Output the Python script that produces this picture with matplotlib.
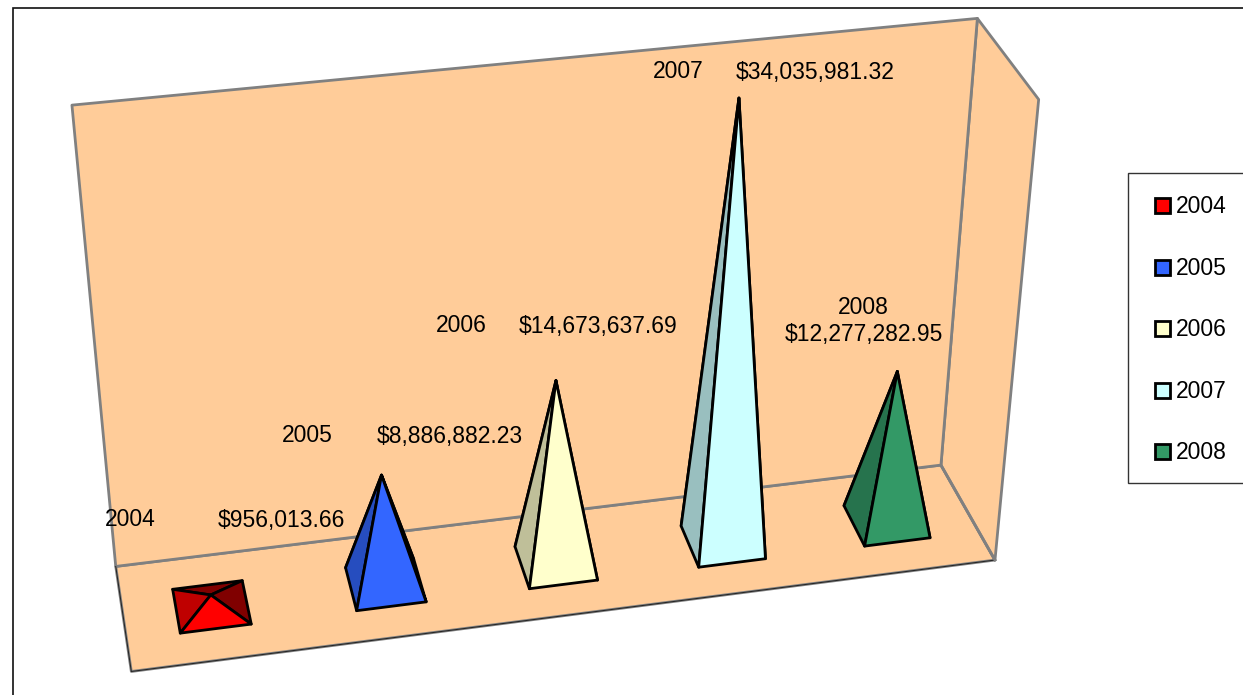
import numpy as np
import matplotlib
matplotlib.use("Agg")
import matplotlib.pyplot as plt
from matplotlib.patches import Polygon, Rectangle

years = ["2004", "2005", "2006", "2007", "2008"]
amounts = [956013.66, 8886882.23, 14673637.69, 34035981.32, 12277282.95]
amount_labels = ["$956,013.66", "$8,886,882.23", "$14,673,637.69", "$34,035,981.32", "$12,277,282.95"]
colors = ["#FF0000", "#3366FF", "#FFFFCC", "#CCFFFF", "#339966"]

W, H = 1243, 695
ZMAX = 35e6
# Box frame: (category axis, depth, value) anchors and where they fall on the canvas
box_world = np.array([[0, 1, ZMAX], [5, 1, ZMAX], [5, 1, 0], [0, 1, 0],
                      [0, 0, 0], [5, 0, 0], [5, 0, ZMAX]], float)
box_pix = np.array([[72, 105], [977, 18], [941, 465], [116, 567],
                    [131, 671], [995, 560], [1039, 100]], float)


def fit_projection(world, pix):
    w = world.copy()
    w[:, 2] /= ZMAX
    rows, rhs = [], []
    for (x, y, z), (u, v) in zip(w, pix):
        rows.append([x, y, z, 1, 0, 0, 0, 0, -u * x, -u * y, -u * z])
        rows.append([0, 0, 0, 0, x, y, z, 1, -v * x, -v * y, -v * z])
        rhs += [u, v]
    sol = np.linalg.lstsq(np.array(rows), np.array(rhs), rcond=None)[0]
    return np.append(sol, 1).reshape(3, 4)


P = fit_projection(box_world, box_pix)


def proj(x, y, z):
    h = P @ np.array([x, y, z / ZMAX, 1.0])
    return h[:2] / h[2]


def shade(c, f):
    return tuple(np.array(matplotlib.colors.to_rgb(c)) * f)


plt.rcParams["font.family"] = ["Liberation Sans", "DejaVu Sans"]
fig = plt.figure(figsize=(W / 100, H / 100), dpi=100)
ax = fig.add_axes([0, 0, 1, 1])
ax.set_xlim(0, W)
ax.set_ylim(H, 0)
ax.axis("off")

# Chart area border
ax.plot([13, 13, W + 5], [H + 5, 8, 8], color="#111111", lw=1.2, solid_joinstyle="miter")

WALL = "#FFCC99"
EDGE = "#808080"
a = lambda x, y, z: proj(x, y, z)
wall = [a(0, 1, ZMAX), a(5, 1, ZMAX), a(5, 1, 0), a(0, 1, 0)]
floor = [a(0, 1, 0), a(5, 1, 0), a(5, 0, 0), a(0, 0, 0)]
side = [a(5, 1, ZMAX), a(5, 0, ZMAX), a(5, 0, 0), a(5, 1, 0)]
for poly in (floor, side, wall):
    ax.add_patch(Polygon(poly, closed=True, fc=WALL, ec=EDGE, lw=2.0, joinstyle="round"))
ax.plot(*zip(a(0, 1, 0), a(0, 0, 0), a(5, 0, 0)), color="#222222", lw=0.7)
ax.plot(*zip(a(5, 0, 0), a(5, 1, 0)), color=EDGE, lw=2.0)

# Pyramids
HALF_X = 0.2
HALF_Y = 0.21
for i, (val, col) in enumerate(zip(amounts, colors)):
    cx, cy = i + 0.5, 0.5
    fl = a(cx - HALF_X, cy - HALF_Y, 0)
    fr = a(cx + HALF_X, cy - HALF_Y, 0)
    bl = a(cx - HALF_X, cy + HALF_Y, 0)
    br = a(cx + HALF_X, cy + HALF_Y, 0)
    top = a(cx, cy, val)
    faces = [([bl, br, top], 0.5), ([br, fr, top], 0.5), ([fl, bl, top], 0.75), ([fl, fr, top], 1.0)]
    for pts, f in faces:
        ax.add_patch(Polygon(pts, closed=True, fc=shade(col, f), ec="black", lw=2.0, joinstyle="round"))

# Data labels
year_xy = [(130, 520), (307, 436), (461, 326), (678, 72), (863, 307)]
amount_xy = [(281, 520), (450, 436), (598, 326), (815, 72), (864, 335)]
for y, lab, p, q in zip(years, amount_labels, year_xy, amount_xy):
    ax.text(*p, y, fontsize=16.5, ha="center", va="center", color="black")
    ax.text(*q, lab, fontsize=16.5, ha="center", va="center", color="black")

# Legend
ax.add_patch(Rectangle((1128, 173), 125, 310, fc="white", ec="#333333", lw=1.0, zorder=3))
for y, col, ly in zip(years, colors, [205, 267, 328, 390, 451]):
    ax.add_patch(Rectangle((1155.5, ly - 7.5), 15, 15, fc=col, ec="black", lw=2.0, zorder=4))
    ax.text(1176, ly + 1.5, y, fontsize=16.5, ha="left", va="center", color="black", zorder=4)

fig.savefig("out.png", dpi=100)
